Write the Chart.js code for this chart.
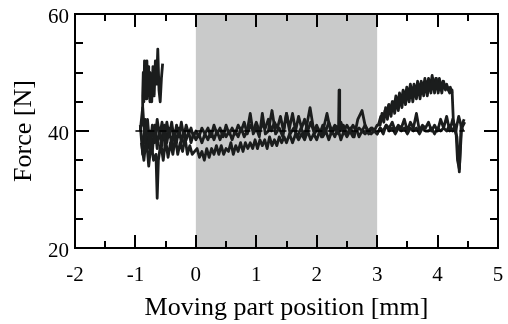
<!DOCTYPE html>
<html>
<head>
<meta charset="utf-8">
<script src="https://cdn.jsdelivr.net/npm/chart.js@4.4.1/dist/chart.umd.min.js"></script>
<style>
  html, body { margin: 0; padding: 0; background: #fff; }
  canvas { display: block; }
</style>
</head>
<body>
<canvas id="c" width="508" height="324"></canvas>
<script>
// === Data ===
const xTicks = [-2, -1, 0, 1, 2, 3, 4, 5];
const yTicks = [20, 40, 60];
const shadeFrom = 0, shadeTo = 3;       // grey band [mm]
const refLevel = 40;                     // dashed reference force [N]
const refFrom = -1.0, refTo = 4.45;

// short upper burst near -0.7 mm
const traceA = [[-0.89,41],[-0.88,46],[-0.87,50],[-0.86,45],[-0.85,52],[-0.84,46],[-0.83,51],[-0.82,45.5],
  [-0.81,52],[-0.80,47],[-0.79,51],[-0.78,46],[-0.77,50],[-0.76,45],[-0.75,49],[-0.73,45],[-0.71,51],
  [-0.69,46],[-0.67,52],[-0.65,48],[-0.63,54],[-0.61,47],[-0.59,45],[-0.57,49],[-0.55,51.5]];

// pass that climbs to ~49 N after 3 mm
const traceB = [[-0.92,40],[-0.88,44],[-0.84,38],[-0.80,42],[-0.76,37],[-0.72,41],[-0.68,38],[-0.64,42],
  [-0.60,39],[-0.56,41.5],[-0.52,38.5],[-0.48,41.5],[-0.44,39],[-0.40,41.5],[-0.36,38.5],[-0.32,41],
  [-0.28,39],[-0.24,41.5],[-0.20,39],[-0.16,41],[-0.12,39.5],[-0.08,40.5],[-0.04,39],
  [0.00,40],[0.05,39],[0.10,40.5],[0.15,39.5],[0.20,40.5],[0.25,39],[0.30,41],[0.35,39.5],[0.40,40.5],
  [0.45,39],[0.50,41],[0.55,39.5],[0.60,40.5],[0.65,39.5],[0.70,41],[0.75,40],[0.80,41.5],[0.85,39.5],
  [0.90,41],[0.95,40],[1.00,41.5],[1.05,40],[1.10,41],[1.15,40.5],[1.20,42],[1.25,40],[1.30,41.5],
  [1.35,40.5],[1.40,42.5],[1.45,40],[1.50,43],[1.55,40.5],[1.60,43],[1.65,40],[1.70,42.5],[1.75,40.5],
  [1.80,42],[1.85,40],[1.90,41.5],[1.95,40],[2.00,41],[2.05,39.5],[2.10,41],[2.15,40],[2.20,41.5],
  [2.25,40],[2.30,41],[2.35,40.5],[2.40,41.5],[2.45,40],[2.50,41],[2.55,40],[2.60,41],[2.65,40],
  [2.70,40.5],[2.75,40],[2.80,41],[2.85,40],[2.90,40.5],[2.95,40],[3.00,41],
  [3.05,41],[3.08,43],[3.11,41.5],[3.14,44],[3.17,42],[3.20,44.5],[3.23,42.5],[3.26,45],[3.29,43],
  [3.32,45.5],[3.35,43.5],[3.38,46],[3.41,44],[3.44,46.5],[3.47,44.5],[3.50,47],[3.53,45],[3.56,47.5],
  [3.59,45],[3.62,47.5],[3.65,45.5],[3.68,48],[3.71,45.5],[3.74,48],[3.77,46],[3.80,48.5],[3.83,46],
  [3.86,48.5],[3.89,46.5],[3.92,49],[3.95,46.5],[3.98,49],[4.01,46.5],[4.04,48.5],[4.07,46.5],
  [4.10,48.5],[4.13,47],[4.16,47.5],[4.20,46.5],[4.24,47],[4.26,42],[4.29,40],[4.32,39],[4.36,33],
  [4.39,41],[4.42,40]];

// second sweep through the same raised band
const traceE = [[3.02,41],[3.06,42.5],[3.10,42],[3.13,43.5],[3.16,43],[3.19,44.5],[3.22,43.5],[3.25,45],
  [3.28,44],[3.31,46],[3.34,44.5],[3.37,46.5],[3.40,45],[3.43,47],[3.46,45.5],[3.49,47.5],[3.52,46],
  [3.55,48],[3.58,46],[3.61,48],[3.64,46.5],[3.67,48.5],[3.70,46.5],[3.73,48.5],[3.76,47],[3.79,49],
  [3.82,47],[3.85,49],[3.88,47.5],[3.91,49.5],[3.94,47.5],[3.97,49],[4.00,47.5],[4.03,49],[4.06,47],
  [4.09,48.5],[4.12,47.5],[4.15,48],[4.18,47],[4.21,47.5],[4.24,46.5]];

// lower pass (dip to ~28 N at -0.63 mm)
const traceC = [[-0.90,38],[-0.86,35],[-0.82,39],[-0.78,34],[-0.74,38],[-0.70,35],[-0.66,36],[-0.64,28.5],
  [-0.62,35],[-0.58,38],[-0.54,35],[-0.50,38.5],[-0.46,35.5],[-0.42,38],[-0.38,36],[-0.34,39],[-0.30,36],
  [-0.26,38],[-0.22,36.5],[-0.18,39],[-0.14,36],[-0.10,37.5],[-0.06,36],[-0.02,36.5],[0.02,37],[0.06,35.5],
  [0.10,36.5],[0.14,35],[0.18,37],[0.22,35.5],[0.26,37],[0.30,36],[0.34,37.5],[0.38,36],[0.42,37.5],
  [0.46,36],[0.50,37],[0.54,36.5],[0.58,38],[0.62,36],[0.66,37.5],[0.70,36.5],[0.74,38],[0.78,36.5],
  [0.82,38],[0.86,37],[0.90,38],[0.94,37],[0.98,38.5],[1.02,37],[1.06,38.5],[1.10,37.5],[1.14,38.5],
  [1.18,37],[1.22,39],[1.26,37.5],[1.30,38.5],[1.34,37.5],[1.38,39],[1.42,38],[1.46,39],[1.50,38],
  [1.55,39.5],[1.60,38],[1.65,39.5],[1.70,38.5],[1.75,39.5],[1.80,38.5],[1.85,40],[1.90,38.5],[1.95,39.5],
  [2.00,38.5],[2.05,40],[2.10,39],[2.15,40],[2.20,38.5],[2.25,40],[2.30,39],[2.35,40.5],[2.40,38.5],
  [2.45,40],[2.50,39],[2.55,40],[2.60,39],[2.65,40.5],[2.70,39],[2.75,40],[2.80,39.5],[2.85,40],
  [2.90,39.5],[2.95,40],[3.00,39.5],[3.05,40.5],[3.10,40],[3.15,41],[3.20,40.5],[3.25,41.5],[3.30,40],
  [3.35,41],[3.40,40.5],[3.45,42],[3.50,40],[3.55,41.5],[3.60,40.5],[3.65,43],[3.70,40],[3.75,41],
  [3.80,40.5],[3.85,41.5],[3.90,40],[3.95,41],[4.00,40],[4.05,42],[4.10,40.5],[4.15,42.5],[4.20,40],
  [4.25,42],[4.30,40],[4.35,42.5],[4.40,40.5],[4.45,41.5]];

// middle pass with spikes (peak ~47 N at 2.37 mm)
const traceD = [[-0.92,41],[-0.88,36],[-0.84,42],[-0.80,37],[-0.76,40],[-0.72,36.5],[-0.68,41],[-0.64,37],
  [-0.60,40.5],[-0.56,37.5],[-0.52,41],[-0.48,38],[-0.44,40.5],[-0.40,37.5],[-0.36,40],[-0.32,38],
  [-0.28,40.5],[-0.24,38],[-0.20,40],[-0.16,38.5],[-0.12,40],[-0.08,38],[-0.04,39.5],[0.00,38.5],
  [0.05,39.5],[0.10,38],[0.15,39.5],[0.20,38.5],[0.25,40],[0.30,38.5],[0.35,40],[0.40,38.5],[0.45,40],
  [0.50,39],[0.55,40],[0.60,38.5],[0.65,40],[0.70,39],[0.75,40.5],[0.80,39],[0.85,40],[0.90,43],
  [0.95,39.5],[1.00,40.5],[1.05,39],[1.10,43],[1.15,39.5],[1.20,40],[1.26,43.5],[1.32,39.5],[1.38,40.5],
  [1.44,39],[1.50,43],[1.56,39.5],[1.62,40.5],[1.68,39],[1.74,40.5],[1.80,39],[1.89,44],[1.96,39.5],
  [2.02,40.5],[2.08,39],[2.17,43],[2.24,39.5],[2.30,40.5],[2.36,39.5],[2.37,47],[2.38,40],[2.44,41],
  [2.50,39.5],[2.56,40.5],[2.62,39],[2.68,42],[2.75,43.5],[2.80,41],[2.86,39.5],[2.92,40.5],[3.00,39.5],
  [3.05,40.5],[3.10,39.5],[3.15,41],[3.20,40],[3.25,40.5],[3.30,39.5],[3.35,40.5],[3.40,40],[3.45,40.5],
  [3.50,39.5],[3.55,40.5],[3.60,40],[3.65,40.5],[3.70,39.5],[3.75,40.5],[3.80,40],[3.85,40],[3.90,40.5],
  [3.95,39.5],[4.00,40.5],[4.05,40],[4.10,40.5],[4.15,40],[4.20,41],[4.25,40],[4.30,41],[4.33,35],
  [4.36,33.5],[4.40,41],[4.44,42]];

const traces = [traceA, traceB, traceE, traceC, traceD];

const INK = '#1b1d1d';
const SERIF = "'Liberation Serif', 'Times New Roman', serif";

// === Shaded band, frame and inward ticks ===
const framePlugin = {
  id: 'frame',
  beforeDatasetsDraw(chart) {
    const { ctx, chartArea: a, scales: { x } } = chart;
    const x0 = x.getPixelForValue(shadeFrom), x1 = x.getPixelForValue(shadeTo);
    ctx.save();
    ctx.fillStyle = '#c9caca';
    ctx.fillRect(x0, a.top, x1 - x0, a.bottom - a.top);
    ctx.restore();
  },
  afterDatasetsDraw(chart) {
    const { ctx, chartArea: a, scales: { x, y } } = chart;
    ctx.save();
    ctx.strokeStyle = '#000';
    ctx.lineWidth = 2;
    ctx.strokeRect(a.left, a.top, a.right - a.left, a.bottom - a.top);
    ctx.beginPath();
    for (let v = x.min; v <= x.max + 1e-9; v += 0.5) {
      const px = Math.round(x.getPixelForValue(v));
      const len = Math.abs(v - Math.round(v)) < 1e-6 ? 13 : 7;
      ctx.moveTo(px, a.bottom); ctx.lineTo(px, a.bottom - len);
      ctx.moveTo(px, a.top); ctx.lineTo(px, a.top + len);
    }
    for (let v = y.min; v <= y.max + 1e-9; v += 5) {
      const py = Math.round(y.getPixelForValue(v));
      const len = v % 20 === 0 ? 14 : 8;
      ctx.moveTo(a.left, py); ctx.lineTo(a.left + len, py);
      ctx.moveTo(a.right, py); ctx.lineTo(a.right - len, py);
    }
    ctx.stroke();
    ctx.restore();
  }
};

const datasets = traces.map(t => ({
  data: t.map(p => ({ x: p[0], y: p[1] })),
  showLine: true,
  borderColor: INK,
  borderWidth: 2.8,
  borderJoinStyle: 'round',
  pointRadius: 0,
  tension: 0
}));
datasets.unshift({
  data: [{ x: refFrom, y: refLevel }, { x: refTo, y: refLevel }],
  showLine: true,
  borderColor: '#000',
  borderWidth: 1.6,
  borderDash: [7, 5],
  pointRadius: 0
});

new Chart(document.getElementById('c'), {
  type: 'scatter',
  data: { datasets },
  options: {
    responsive: false,
    animation: false,
    devicePixelRatio: 1,
    layout: { padding: { top: 14, right: 10, left: 0, bottom: 0 } },
    plugins: { legend: { display: false }, tooltip: { enabled: false } },
    scales: {
      x: {
        type: 'linear', min: -2, max: 5,
        afterFit: s => { s.height = 76; s.paddingLeft = 0; s.paddingRight = 0; },
        afterBuildTicks: s => { s.ticks = xTicks.map(v => ({ value: v })); },
        ticks: { color: '#000', padding: 15, maxRotation: 0, font: { family: SERIF, size: 21 } },
        grid: { display: false, drawTicks: false },
        border: { display: false },
        title: { display: true, text: 'Moving part position [mm]', color: '#000',
                 font: { family: SERIF, size: 26 }, padding: { top: 3, bottom: 0 } }
      },
      y: {
        type: 'linear', min: 20, max: 60,
        afterFit: s => { s.width = 75; s.paddingTop = 0; s.paddingBottom = 0; },
        afterBuildTicks: s => { s.ticks = yTicks.map(v => ({ value: v })); },
        ticks: { color: '#000', padding: 6, labelOffset: 3, font: { family: SERIF, size: 21 } },
        grid: { display: false, drawTicks: false },
        border: { display: false },
        title: { display: true, text: 'Force [N]', color: '#000',
                 font: { family: SERIF, size: 26 }, padding: { top: 9, bottom: 0 } }
      }
    }
  },
  plugins: [framePlugin]
});
</script>
</body>
</html>
